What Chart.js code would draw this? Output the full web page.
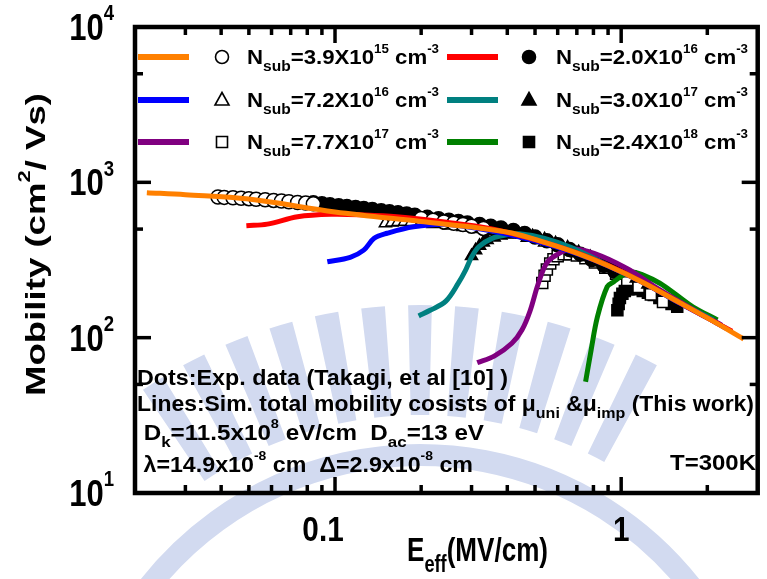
<!DOCTYPE html>
<html>
<head>
<meta charset="utf-8">
<script src="https://cdn.jsdelivr.net/npm/chart.js@4.4.0/dist/chart.umd.min.js"></script>
<style>
  html, body { margin: 0; padding: 0; background: #fff; }
  #wrap { position: relative; width: 767px; height: 579px; }
</style>
</head>
<body>
<div id="wrap"><canvas id="mobility" width="767" height="579"></canvas></div>
<script>
// Simulated total mobility (lines), E_eff in MV/cm, mobility in cm^2/Vs
const simE_39e15 = [0.022, 0.03, 0.05, 0.1, 0.2, 0.3, 0.415, 0.54, 0.7, 0.9, 1.2, 1.6, 2.03, 2.68];
const simMu_39e15 = [858, 832, 780, 645, 560, 515, 472, 410, 350, 290, 225, 168, 132, 98];
const simE_20e16 = [0.049, 0.058, 0.074, 0.097, 0.127, 0.164, 0.245, 0.35, 0.5, 0.7, 0.9, 1.2, 1.6, 2.0, 2.44];
const simMu_20e16 = [526, 538, 600, 622, 616, 600, 553, 503, 428, 352, 292, 226, 168, 134, 110];
const simE_72e16 = [0.094, 0.113, 0.126, 0.137, 0.152, 0.188, 0.244, 0.363, 0.5, 0.7, 0.9, 1.2, 1.6, 2.0, 2.32];
const simMu_72e16 = [308, 329, 366, 436, 470, 518, 537, 481, 420, 348, 290, 225, 167, 134, 115];
const simE_30e17 = [0.196, 0.215, 0.244, 0.27, 0.286, 0.3, 0.318, 0.354, 0.4, 0.44, 0.54, 0.67, 0.9, 1.2, 1.6, 2.1];
const simMu_30e17 = [138, 150, 172, 225, 272, 330, 385, 436, 460, 466, 436, 380, 292, 226, 168, 130];
const simE_77e17 = [0.314, 0.36, 0.415, 0.45, 0.48, 0.512, 0.548, 0.59, 0.668, 0.804, 1.047, 1.3, 1.7, 2.25];
const simMu_77e17 = [69, 76, 92, 112, 148, 220, 300, 338, 372, 349, 279, 215, 160, 120];
const simE_24e18 = [0.751, 0.785, 0.826, 0.894, 0.943, 1.0, 1.075, 1.2, 1.365, 1.55, 1.78, 2.17];
const simMu_24e18 = [52, 83, 136, 213, 229, 248, 266, 252, 224, 190, 158, 130];

// Experimental points (Takagi et al.)
const expE_39e15 = [0.039, 0.041, 0.044, 0.047, 0.05, 0.053, 0.057, 0.061, 0.065, 0.069, 0.074, 0.079, 0.084, 0.2, 0.22, 0.24, 0.26, 0.28, 0.3, 0.33];
const expMu_39e15 = [805, 800, 795, 790, 785, 778, 772, 765, 758, 750, 742, 735, 727, 585, 570, 556, 545, 535, 522, 505];
const expE_20e16 = [0.084, 0.09, 0.096, 0.103, 0.11, 0.118, 0.126, 0.135, 0.145, 0.155, 0.166, 0.178, 0.19, 0.21, 0.23, 0.25, 0.27, 0.29, 0.32, 0.35, 0.38, 0.42, 0.46, 0.5, 0.55, 0.6, 0.66, 0.72, 0.79, 0.87, 0.95];
const expMu_20e16 = [740, 728, 718, 708, 698, 688, 678, 668, 657, 646, 636, 625, 613, 595, 582, 570, 560, 548, 535, 522, 508, 490, 468, 445, 420, 396, 370, 345, 318, 292, 268];
const expE_72e16 = [0.15, 0.158, 0.166, 0.175, 0.185, 0.2, 0.22, 0.25, 0.28, 0.32, 0.36, 0.41, 0.47, 0.54, 0.62, 0.7, 0.8, 0.9, 1.0];
const expMu_72e16 = [545, 552, 556, 558, 556, 550, 540, 528, 515, 500, 484, 465, 440, 410, 380, 350, 318, 290, 265];
const expE_30e17 = [0.3, 0.31, 0.32, 0.33, 0.34, 0.36, 0.38, 0.41, 0.45, 0.49, 0.54, 0.59, 0.65, 0.71, 0.78, 0.86, 0.94, 1.03, 1.13, 1.24];
const expMu_30e17 = [335, 365, 390, 410, 425, 442, 455, 462, 460, 450, 430, 405, 380, 355, 330, 305, 282, 260, 240, 220];
const expE_77e17 = [0.53, 0.54, 0.55, 0.565, 0.58, 0.6, 0.63, 0.66, 0.7, 0.75, 0.81, 0.88, 0.96, 1.05, 1.15, 1.27, 1.4];
const expMu_77e17 = [225, 250, 275, 300, 320, 335, 345, 345, 338, 325, 305, 282, 258, 235, 212, 190, 170];
const expE_24e18 = [0.97, 0.98, 0.99, 1.01, 1.03, 1.06, 1.1, 1.14, 1.19, 1.24, 1.3, 1.36, 1.43, 1.5, 1.57];
const expMu_24e18 = [150, 165, 180, 192, 200, 205, 207, 205, 200, 195, 188, 180, 172, 165, 158];

// Axis ticks
const xMajorTicks = [0.1, 1];
const xMinorTicks = [0.03, 0.04, 0.05, 0.06, 0.07, 0.08, 0.09, 0.2, 0.3, 0.4, 0.5, 0.6, 0.7, 0.8, 0.9, 2];
const xTickLabels = ['0.1', '1'];
const yMajorTicks = [100, 1000];
const yMinorTicks = [50, 500, 5000];
const yTickExps = [1, 2, 3, 4];

const FONT = '"Liberation Sans", Arial, sans-serif';

const lineColors = ['#FF8000', '#FF0000', '#0000FF', '#008080', '#800080', '#008000'];

const toPts = (xs, ys) => xs.map((x, i) => ({ x, y: ys[i] }));

// draws a run of text pieces: ['text', ''|'sup'|'sub']
function richText(ctx, parts, x, y, size, opts) {
  const o = Object.assign({ align: 'left', sx: 1, rot: 0 }, opts);
  const kinds = { '': [1, 0], sup: [0.6, -0.55], sub: [0.7, 0.34] };
  let w = 0;
  const runs = parts.map(([t, k = '']) => {
    const [f, dy] = kinds[k];
    ctx.font = `bold ${size * f}px ${FONT}`;
    const r = { t, f, dy, x: w };
    w += ctx.measureText(t).width;
    return r;
  });
  const sx = o.width ? o.width / w : o.sx;
  ctx.save();
  ctx.translate(x, y);
  if (o.rot) ctx.rotate(o.rot);
  ctx.scale(sx, 1);
  const ox = o.align === 'center' ? -w / 2 : o.align === 'right' ? -w : 0;
  ctx.fillStyle = '#000';
  ctx.textBaseline = 'alphabetic';
  runs.forEach(r => {
    ctx.font = `bold ${size * r.f}px ${FONT}`;
    ctx.fillText(r.t, ox + r.x, r.dy * size);
  });
  ctx.restore();
}

function marker(ctx, style, filled, x, y) {
  ctx.save();
  ctx.lineWidth = 1.6;
  ctx.strokeStyle = '#000';
  ctx.fillStyle = filled ? '#000' : '#fff';
  ctx.beginPath();
  if (style === 'circle') ctx.arc(x, y, 6.5, 0, Math.PI * 2);
  else if (style === 'triangle') { ctx.moveTo(x, y - 7.5); ctx.lineTo(x + 7, y + 5); ctx.lineTo(x - 7, y + 5); ctx.closePath(); }
  else ctx.rect(x - 5.5, y - 5.5, 11, 11);
  ctx.fill();
  ctx.stroke();
  ctx.restore();
}

// faint emblem behind the plot
const emblem = {
  id: 'emblem',
  beforeDraw(chart) {
    const { ctx } = chart;
    const cx = 420, cy = 800;
    ctx.save();
    ctx.fillStyle = '#D2DAF0';
    for (let k = -6; k <= 5; k++) {
      const a = k * 0.095 - Math.PI / 2;
      const h = 0.024;
      ctx.beginPath();
      ctx.arc(cx, cy, 495, a - h, a + h);
      ctx.arc(cx, cy, 385, a + h, a - h, true);
      ctx.closePath();
      ctx.fill();
    }
    // outer ring bands
    ctx.lineWidth = 30;
    ctx.strokeStyle = '#D2DAF0';
    ctx.beginPath(); ctx.arc(cx, cy, 560, Math.PI * 1.02, Math.PI * 1.22); ctx.stroke();
    ctx.beginPath(); ctx.arc(cx, cy, 560, Math.PI * 1.8, Math.PI * 1.98); ctx.stroke();
    ctx.lineWidth = 22;
    ctx.beginPath(); ctx.arc(cx, cy, 345, Math.PI * 1.18, Math.PI * 1.82); ctx.stroke();
    ctx.restore();
  }
};

const frameAndText = {
  id: 'frameAndText',
  afterDraw(chart) {
    const { ctx, chartArea: a, scales: { x, y } } = chart;
    ctx.save();
    ctx.strokeStyle = '#000';
    ctx.lineCap = 'butt';
    // inward ticks on all four sides
    ctx.lineWidth = 3.5;
    const tick = (x1, y1, x2, y2) => { ctx.beginPath(); ctx.moveTo(x1, y1); ctx.lineTo(x2, y2); ctx.stroke(); };
    xMajorTicks.forEach(v => { const px = x.getPixelForValue(v); tick(px, a.top, px, a.top + 16); tick(px, a.bottom, px, a.bottom - 16); });
    xMinorTicks.forEach(v => { const px = x.getPixelForValue(v); tick(px, a.top, px, a.top + 8); tick(px, a.bottom, px, a.bottom - 8); });
    yMajorTicks.forEach(v => { const py = y.getPixelForValue(v); tick(a.left, py, a.left + 16, py); tick(a.right, py, a.right - 16, py); });
    yMinorTicks.forEach(v => { const py = y.getPixelForValue(v); tick(a.left, py, a.left + 8, py); tick(a.right, py, a.right - 8, py); });
    ctx.lineWidth = 4.5;
    ctx.strokeRect(a.left, a.top, a.right - a.left, a.bottom - a.top);
    ctx.restore();

    // y tick labels 10^n
    yTickExps.forEach(n => {
      const py = y.getPixelForValue(Math.pow(10, n));
      richText(ctx, [['10'], [String(n), 'sup']], 114, py + 13, 36, { align: 'right', sx: 0.86 });
    });
    // x tick labels
    xMajorTicks.forEach((v, i) => {
      const px = x.getPixelForValue(v);
      richText(ctx, [[xTickLabels[i]]], px - (i === 0 ? 12 : 0), 541, 35, { align: 'center', sx: 0.85 });
    });
    // axis titles
    richText(ctx, [['E'], ['eff', 'sub'], ['(MV/cm)']], 407, 561, 33, { width: 141 });
    richText(ctx, [['Mobility (cm'], ['2', 'sup'], ['/ Vs)']], 45, 396, 27, { rot: -Math.PI / 2, width: 303 });

    // legend
    const rows = [57, 100, 142];
    const legend = [
      { c: 0, m: 'circle', f: false, txt: ['3.9X10', '15'] },
      { c: 1, m: 'circle', f: true, txt: ['2.0X10', '16'] },
      { c: 2, m: 'triangle', f: false, txt: ['7.2X10', '16'] },
      { c: 3, m: 'triangle', f: true, txt: ['3.0X10', '17'] },
      { c: 4, m: 'rect', f: false, txt: ['7.7X10', '17'] },
      { c: 5, m: 'rect', f: true, txt: ['2.4X10', '18'] }
    ];
    legend.forEach((e, i) => {
      const row = rows[Math.floor(i / 2)];
      const col = i % 2;
      const x0 = col ? 447 : 138;
      ctx.save();
      ctx.strokeStyle = lineColors[e.c];
      ctx.lineWidth = 6;
      ctx.beginPath(); ctx.moveTo(x0, row); ctx.lineTo(x0 + 51, row); ctx.stroke();
      ctx.restore();
      marker(ctx, e.m, e.f, x0 + (col ? 82 : 84), row);
      richText(ctx, [['N'], ['sub', 'sub'], ['=' + e.txt[0]], [e.txt[1], 'sup'], [' cm'], ['-3', 'sup']],
        x0 + 109, row + 7, 20, { width: 192 });
    });

    // notes
    richText(ctx, [['Dots:Exp. data (Takagi, et al [10] )']], 137, 385, 22, { width: 371 });
    richText(ctx, [['Lines:Sim. total mobility cosists of \u03bc'], ['uni', 'sub'], [' &\u03bc'], ['imp', 'sub'], [' (This work)']], 137, 411, 22, { width: 617 });
    richText(ctx, [[' D'], ['k', 'sub'], ['=11.5x10'], ['8', 'sup'], [' eV/cm  D'], ['ac', 'sub'], ['=13 eV']], 137, 440, 22, { width: 347 });
    richText(ctx, [[' \u03bb=14.9x10'], ['-8', 'sup'], [' cm  \u0394=2.9x10'], ['-8', 'sup'], [' cm']], 137, 472, 22, { width: 336 });
    richText(ctx, [['T=300K']], 670, 470, 22, { width: 86 });
  }
};

const lineSet = (xs, ys, c) => ({
  type: 'line', data: toPts(xs, ys), borderColor: lineColors[c], borderWidth: 5,
  pointRadius: 0, tension: 0.35, fill: false, order: 1
});
const dotSet = (xs, ys, style, filled) => ({
  type: 'scatter', data: toPts(xs, ys), pointStyle: style,
  pointRadius: style === 'rect' ? 7.8 : 7, pointBorderWidth: 1.5,
  pointBorderColor: '#000', pointBackgroundColor: filled ? '#000' : '#fff', order: 2
});

new Chart(document.getElementById('mobility'), {
  type: 'scatter',
  data: {
    datasets: [
      dotSet(expE_39e15, expMu_39e15, 'circle', false),
      dotSet(expE_20e16, expMu_20e16, 'circle', true),
      dotSet(expE_72e16, expMu_72e16, 'triangle', false),
      dotSet(expE_30e17, expMu_30e17, 'triangle', true),
      dotSet(expE_77e17, expMu_77e17, 'rect', false),
      dotSet(expE_24e18, expMu_24e18, 'rect', true),
      lineSet(simE_39e15, simMu_39e15, 0),
      lineSet(simE_20e16, simMu_20e16, 1),
      lineSet(simE_72e16, simMu_72e16, 2),
      lineSet(simE_30e17, simMu_30e17, 3),
      lineSet(simE_77e17, simMu_77e17, 4),
      lineSet(simE_24e18, simMu_24e18, 5)
    ]
  },
  options: {
    responsive: false,
    animation: false,
    layout: { padding: { left: 135, right: 1, top: 27, bottom: 86 } },
    scales: {
      x: { type: 'logarithmic', min: 0.02, max: 3, display: false },
      y: { type: 'logarithmic', min: 10, max: 10000, display: false }
    },
    plugins: { legend: { display: false }, tooltip: { enabled: false } }
  },
  plugins: [emblem, frameAndText]
});
</script>
</body>
</html>
